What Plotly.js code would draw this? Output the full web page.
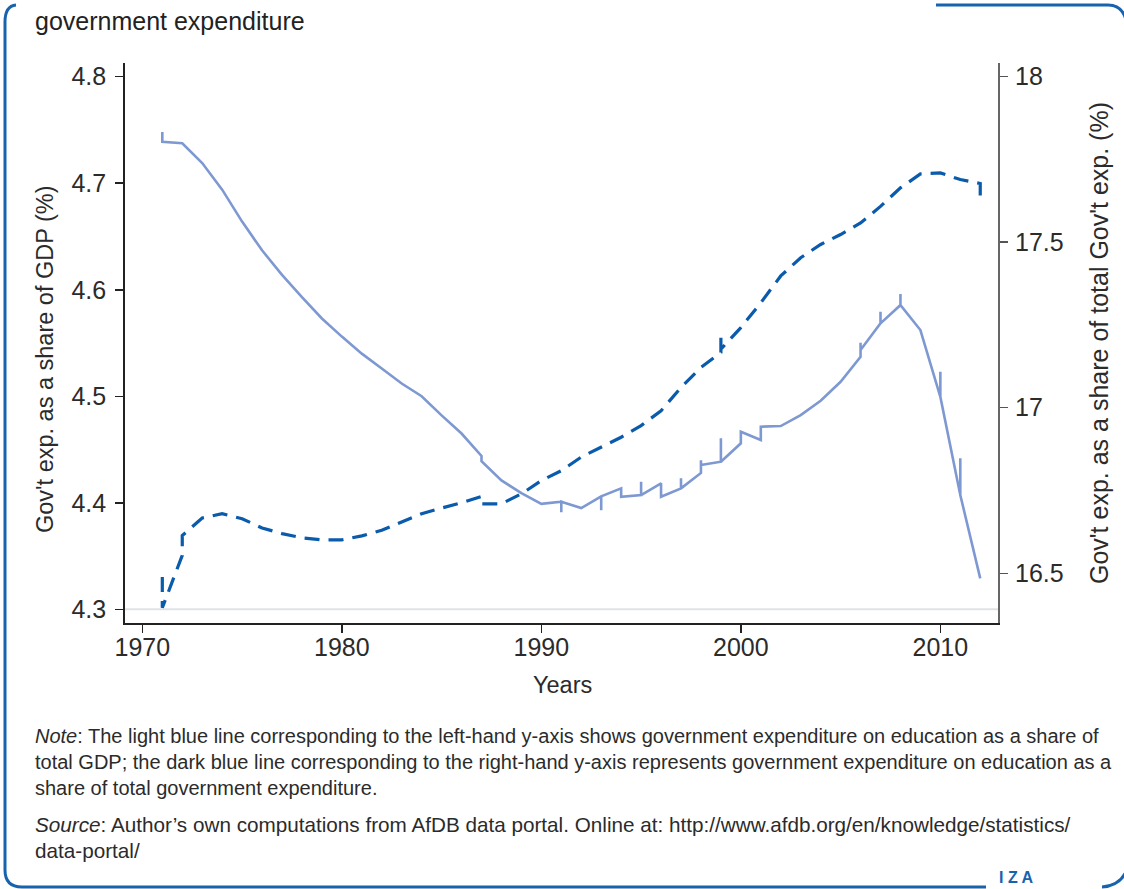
<!DOCTYPE html>
<html>
<head>
<meta charset="utf-8">
<script src="https://cdn.plot.ly/plotly-3.0.1.min.js"></script>
<style>
html,body{margin:0;padding:0;background:#fff;}
#chart{width:1124px;height:889px;}
</style>
</head>
<body>
<div id="chart"></div>
<script>
// ---- Data ----
// Light blue line: education expenditure as a share of GDP (%), left axis.
// Repeated years reproduce the short vertical strokes seen in the original.
const gdpYears = [1971,1971,1972,1973,1974,1975,1976,1977,1978,1979,1980,1981,1982,1983,1984,1985,1986,1987,1987,1988,1989,1990,
  1991,1991,1991,1992,1993,1993,1993,1994,1994,1995,1995,1995,1996,1996,1997,1997,1997,1998,1998,1998,1999,1999,1999,
  2000,2000,2001,2001,2002,2003,2004,2005,2006,2006,2006,2007,2007,2007,2008,2008,2008,2009,2010,2010,2010,2011,2011,2011,2012];
const gdpShare = [4.748,4.739,4.7375,4.719,4.694,4.664,4.637,4.614,4.593,4.573,4.556,4.540,4.526,4.512,4.500,4.482,4.465,4.444,4.439,4.421,4.409,4.399,
  4.401,4.391,4.401,4.395,4.406,4.393,4.406,4.4135,4.4056,4.4072,4.4197,4.4072,4.4182,4.4056,4.4135,4.4229,4.4135,4.428,4.440,4.4354,4.4385,4.4605,4.4385,
  4.4558,4.4667,4.4589,4.4714,4.472,4.4823,4.4958,4.5136,4.537,4.5502,4.5434,4.5684,4.5793,4.5684,4.5856,4.596,4.5856,4.5622,4.4995,4.523,4.4995,4.4072,4.4417,4.4072,4.329];

// Dark blue dashed line: education expenditure as a share of total government expenditure (%), right axis.
const govYears = [1971,1971,1972,1972,1973,1974,1975,1976,1977,1978,1979,1980,1981,1982,1983,1984,1985,1986,1987,1987,1988,1989,1990,
  1991,1992,1993,1994,1995,1996,1997,1998,1999,1999,1999,2000,2001,2002,2003,2004,2005,2006,2007,2008,2009,2010,2011,2012,2012];
const govShare = [16.489,16.396,16.554,16.614,16.667,16.680,16.665,16.637,16.620,16.607,16.601,16.601,16.613,16.630,16.655,16.680,16.697,16.713,16.732,16.710,16.710,16.740,16.780,
  16.810,16.851,16.881,16.911,16.946,16.991,17.061,17.122,17.167,17.222,17.177,17.242,17.317,17.398,17.453,17.493,17.523,17.558,17.608,17.664,17.706,17.709,17.689,17.677,17.634];

const xTicks = [1970,1980,1990,2000,2010];
const leftTicks = [4.3,4.4,4.5,4.6,4.7,4.8];
const leftTickText = ["4.3","4.4","4.5","4.6","4.7","4.8"];
const rightTicks = [16.5,17,17.5,18];
const rightTickText = ["16.5","17","17.5","18"];

const titleText = "government expenditure";
const leftTitle = "Gov't exp. as a share of GDP (%)";
const rightTitle = "Gov't exp. as a share of total Gov't exp. (%)";
const xTitle = "Years";
const noteLines = [
  "<i>Note</i>: The light blue line corresponding to the left-hand y-axis shows government expenditure on education as a share of",
  "total GDP; the dark blue line corresponding to the right-hand y-axis represents government expenditure on education as a",
  "share of total government expenditure."
];
const sourceLines = [
  "<i>Source</i>: Author\u2019s own computations from AfDB data portal. Online at: http://www.afdb.org/en/knowledge/statistics/",
  "data-portal/"
];

// ---- Layout helpers (pixel -> paper) ----
const W = 1124, H = 889;
const M = {l:125, r:126, t:63, b:266};
const PW = W - M.l - M.r, PH = H - M.t - M.b;
const px = x => (x - M.l) / PW;
const py = y => (H - M.b - y) / PH;
const pt = (x,y) => px(x).toFixed(5) + "," + py(y).toFixed(5);

const FONT = "Liberation Sans, Arial, sans-serif";
const TXT = "#2b2b2b";
const LIGHT = "#7e99d2";
const DARK = "#0a5bab";
const FRAME = "#1763ad";

const traces = [
  {x: gdpYears, y: gdpShare, type: "scatter", mode: "lines", yaxis: "y",
   line: {color: LIGHT, width: 2.6}, hoverinfo: "skip", showlegend: false},
  {x: govYears, y: govShare, type: "scatter", mode: "lines", yaxis: "y2",
   line: {color: DARK, width: 3.2, dash: "15px,9px"}, hoverinfo: "skip", showlegend: false}
];

function ann(text, x, y, opts) {
  return Object.assign({text: text, x: px(x), y: py(y), xref: "paper", yref: "paper",
    showarrow: false, xanchor: "left", yanchor: "middle",
    font: {family: FONT, size: 20, color: TXT}}, opts || {});
}

const srcFont = {family: FONT, size: 20.7, color: TXT};

const annotations = [
  ann(titleText, 33, 21, {font: {family: FONT, size: 25, color: "#222"}}),
  ann(leftTitle, 45, 359, {xanchor: "center", textangle: -90, font: {family: FONT, size: 23.5, color: TXT}}),
  ann(rightTitle, 1099, 343, {xanchor: "center", textangle: -90, font: {family: FONT, size: 25, color: TXT}}),
  ann(xTitle, 562, 685, {xanchor: "center", font: {family: FONT, size: 23.5, color: TXT}}),
  ann(noteLines[0], 33, 736),
  ann(noteLines[1], 33, 762),
  ann(noteLines[2], 33, 788),
  ann(sourceLines[0], 33, 824, {font: srcFont}),
  ann(sourceLines[1], 33, 850, {font: srcFont}),
  ann("<b>I Z A</b>", 997, 877, {font: {family: FONT, size: 16, color: FRAME}})
];

const shapes = [
  // faint baseline at 4.3
  {type: "line", xref: "paper", yref: "y", x0: 0, x1: 1, y0: 4.3, y1: 4.3,
   line: {color: "#e0e3e6", width: 2}, layer: "below"},
  // frame: left side with rounded corners and bottom edge
  {type: "path", xref: "paper", yref: "paper", layer: "above",
   path: "M" + pt(16,5) + " Q" + pt(5,6) + " " + pt(5,22) + " L" + pt(5,870) +
         " Q" + pt(5,887) + " " + pt(22,887) + " L" + pt(986,887),
   line: {color: FRAME, width: 3}},
  // frame: top-right edge
  {type: "path", xref: "paper", yref: "paper", layer: "above",
   path: "M" + pt(936,5) + " L" + pt(1108,5) + " Q" + pt(1122,5) + " " + pt(1126,20),
   line: {color: FRAME, width: 3}},
  // frame: bottom-right corner
  {type: "path", xref: "paper", yref: "paper", layer: "above",
   path: "M" + pt(1102,887) + " Q" + pt(1119,886) + " " + pt(1126,872),
   line: {color: FRAME, width: 3}}
];

const tickFont = {family: FONT, size: 25, color: TXT};

const layout = {
  width: W, height: H,
  margin: M,
  paper_bgcolor: "#fff", plot_bgcolor: "#fff",
  showlegend: false,
  xaxis: {range: [1969.13, 2012.89], tickvals: xTicks, ticktext: xTicks.map(String),
    ticks: "outside", ticklen: 8, tickwidth: 1.5, tickcolor: "#222",
    showline: true, linecolor: "#222", linewidth: 1.8, showgrid: false, zeroline: false,
    tickfont: tickFont, ticklabelstandoff: -7},
  yaxis: {range: [4.2871, 4.8129], tickvals: leftTicks, ticktext: leftTickText,
    ticks: "outside", ticklen: 8, tickwidth: 1.5, tickcolor: "#222",
    showline: true, linecolor: "#222", linewidth: 1.8, showgrid: false, zeroline: false,
    tickfont: tickFont, ticklabelstandoff: 4},
  yaxis2: {range: [16.35, 18.041], tickvals: rightTicks, ticktext: rightTickText,
    overlaying: "y", side: "right",
    ticks: "outside", ticklen: 8, tickwidth: 1.5, tickcolor: "#555",
    showline: true, linecolor: "#666", linewidth: 2, showgrid: false, zeroline: false,
    tickfont: tickFont, ticklabelstandoff: 2},
  annotations: annotations,
  shapes: shapes
};

Plotly.newPlot("chart", traces, layout, {staticPlot: true, displayModeBar: false});
</script>
</body>
</html>
